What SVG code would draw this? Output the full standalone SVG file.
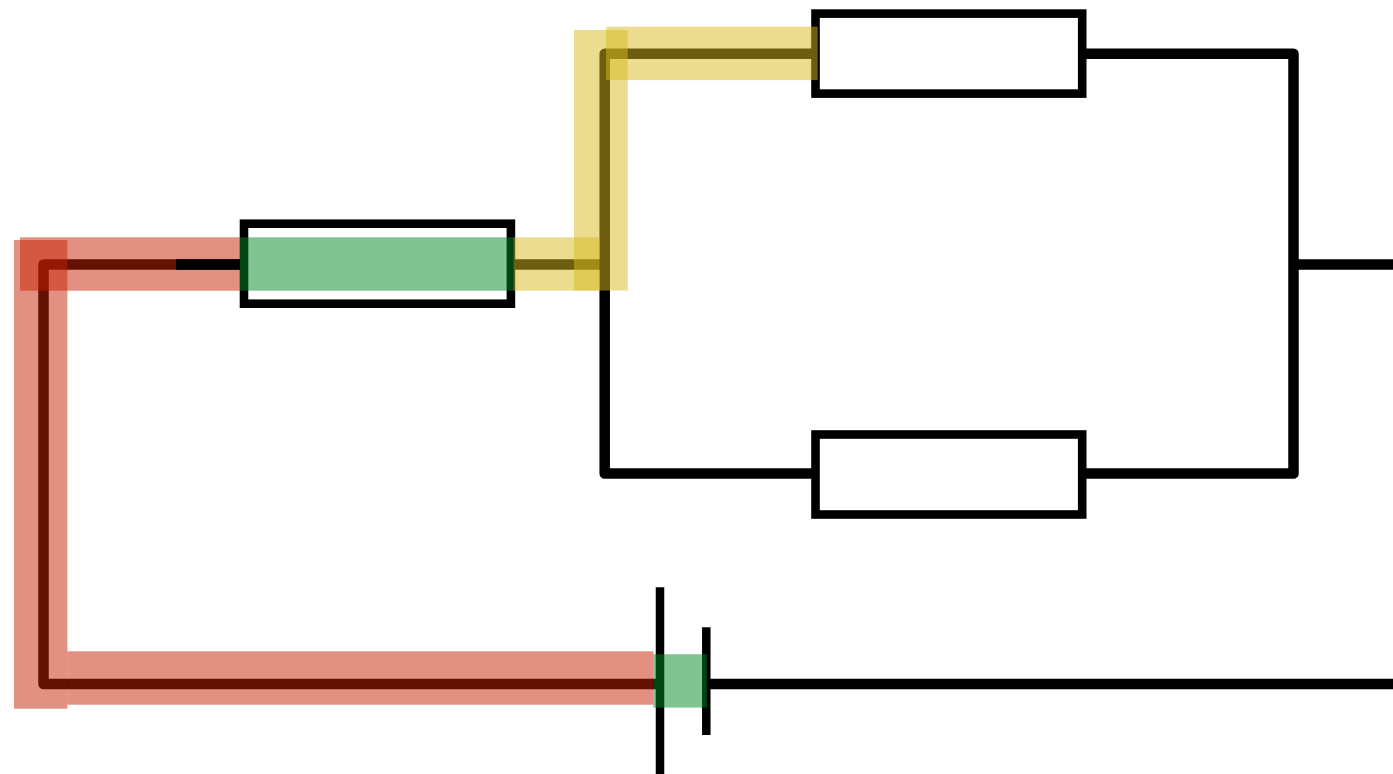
<svg xmlns="http://www.w3.org/2000/svg" width="1393" height="774" viewBox="0 0 1393 774">
<style>
.w{fill:none;stroke:#000;stroke-width:10.5;stroke-linejoin:round}
.box{fill:#fff;stroke:#000;stroke-width:8.6}
.plate{fill:none;stroke:#000;stroke-width:8.5}
.r{fill:#c52104;fill-opacity:.5}
.y{fill:#d7b91f;fill-opacity:.5}
.g{fill:#028a2a;fill-opacity:.5}
</style>
<rect width="1393" height="774" fill="#fff"/>
<g id="connectors">
<path class="w" d="M240 264.5H43.5V684H660"/>
<path class="w" d="M511 264.5H604.7"/>
<path class="w" d="M815 53.7H604.7V473.5H815"/>
<path class="w" d="M1082 53.7H1293.5V473.5H1082"/>
<path class="w" d="M1293.5 264.5H1393"/>
<path class="w" d="M706 684H1393"/>
</g>
<g id="resistor-1"><rect class="box" x="244" y="223.7" width="266.9" height="80"/></g>
<g id="resistor-2"><rect class="box" x="815.5" y="13.6" width="266.7" height="80"/></g>
<g id="resistor-3"><rect class="box" x="815.5" y="434.5" width="266.7" height="80"/></g>
<g id="capacitor">
<path class="plate" d="M660 587.3V774"/>
<path class="plate" d="M706.3 627.3V735"/>
</g>
<g id="highlights">
<rect class="r" x="20" y="237.3" width="220" height="53.4"/>
<rect class="r" x="14" y="240" width="53.4" height="468.7"/>
<rect class="r" x="67.4" y="651.3" width="586" height="53.4"/>
<rect class="g" x="240" y="237.3" width="273.5" height="53.4"/>
<rect class="g" x="653.4" y="654.2" width="53.4" height="53.4"/>
<rect class="y" x="513.5" y="237.3" width="86" height="53.4"/>
<rect class="y" x="574" y="30" width="53.7" height="260.5"/>
<rect class="y" x="606" y="26.7" width="211.7" height="53.4"/>
</g>
<g id="lead"><path class="w" d="M176 264.5H240"/></g>
</svg>
